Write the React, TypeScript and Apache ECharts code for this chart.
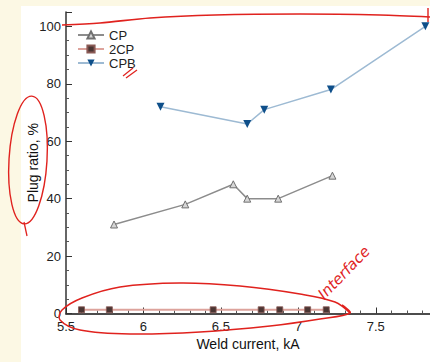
import React, { useEffect, useRef } from "react";
import * as echarts from "echarts";

// Data
const seriesNames = ["CP", "2CP", "CPB"];
const cpCurrent = [5.81, 6.27, 6.58, 6.67, 6.87, 7.22];
const cpRatio = [31, 38, 45, 40, 40, 48];
const twoCpCurrent = [5.6, 5.78, 6.45, 6.76, 6.88, 7.06, 7.18];
const twoCpRatio = [1.3, 1.3, 1.3, 1.3, 1.3, 1.3, 1.3];
const cpbCurrent = [6.11, 6.67, 6.78, 7.21, 7.82];
const cpbRatio = [72, 66, 71, 78, 100];
const xTickLabels = [5.5, 6, 6.5, 7, 7.5];
const yTickLabels = [0, 20, 40, 60, 80, 100];

const FONT = "'Liberation Sans', Arial, Helvetica, sans-serif";
const RED = "#e0221e";

function pairs(xs: number[], ys: number[]) {
  return xs.map((x, i) => [x, ys[i]]);
}

export default function App() {
  const ref = useRef<HTMLDivElement>(null);

  useEffect(() => {
    if (!ref.current) return;
    const chart = echarts.init(ref.current, undefined, { renderer: "svg" });
    const option: any = {
      animation: false,
      backgroundColor: "transparent",
      textStyle: { fontFamily: FONT },
      grid: { left: 66, top: 12, right: 0, bottom: 48.5 },
      legend: {
        orient: "vertical",
        left: 72,
        top: 23,
        itemWidth: 26,
        itemHeight: 9,
        itemGap: 0,
        data: seriesNames,
        textStyle: { fontFamily: FONT, fontSize: 13, color: "#222", lineHeight: 14 },
      },
      xAxis: [
        {
          type: "value",
          min: 5.5,
          max: 7.85,
          interval: 0.5,
          name: "Weld current, kA",
          nameLocation: "middle",
          nameGap: 23,
          nameTextStyle: { fontFamily: FONT, fontSize: 14, color: "#111" },
          axisLine: { show: true, onZero: false, lineStyle: { color: "#333", width: 1.5 } },
          axisTick: { show: true, inside: true, length: 6, lineStyle: { color: "#333" } },
          minorTick: { show: true, splitNumber: 5, length: 3, lineStyle: { color: "#555" } },
          splitLine: { show: false },
          axisLabel: {
            margin: 6,
            fontFamily: FONT,
            fontSize: 13,
            color: "#222",
            showMaxLabel: false,
            formatter: (v: number) =>
              xTickLabels.some((t) => Math.abs(t - v) < 1e-6) ? String(v) : "",
          },
        },
        {
          type: "value",
          position: "top",
          min: 5.5,
          max: 7.85,
          axisLine: { show: true, lineStyle: { color: "#444", width: 1.5 } },
          axisTick: { show: false },
          axisLabel: { show: false },
          splitLine: { show: false },
        },
      ],
      yAxis: {
        type: "value",
        min: 0,
        max: 105,
        interval: 20,
        name: "Plug ratio, %",
        nameLocation: "middle",
        nameGap: 26,
        nameMoveOverlap: false,
        nameTextStyle: { fontFamily: FONT, fontSize: 14, color: "#111" },
        axisLine: { show: true, lineStyle: { color: "#333", width: 1.5 } },
        axisTick: { show: true, inside: true, length: 6, lineStyle: { color: "#333" } },
        minorTick: { show: true, splitNumber: 4, length: 3, lineStyle: { color: "#555" } },
        splitLine: { show: false },
        axisLabel: {
          margin: 5,
          fontFamily: FONT,
          fontSize: 13,
          color: "#222",
          showMaxLabel: false,
          formatter: (v: number) => (yTickLabels.includes(v) ? String(v) : ""),
        },
      },
      series: [
        {
          name: "CP",
          type: "line",
          data: pairs(cpCurrent, cpRatio),
          symbol: "triangle",
          symbolSize: 7,
          lineStyle: { color: "#8c8c8c", width: 1.5 },
          itemStyle: { color: "#d6d6d6", borderColor: "#707070", borderWidth: 1 },
          z: 3,
        },
        {
          name: "2CP",
          type: "line",
          data: pairs(twoCpCurrent, twoCpRatio),
          symbol: "rect",
          symbolSize: 6,
          lineStyle: { color: "#dda39c", width: 1.8 },
          itemStyle: { color: "#4a3533", borderColor: "#8a5a55", borderWidth: 0.8 },
          z: 3,
        },
        {
          name: "CPB",
          type: "line",
          data: pairs(cpbCurrent, cpbRatio),
          symbol: "triangle",
          symbolRotate: 180,
          symbolSize: 8,
          lineStyle: { color: "#9dbad3", width: 1.5 },
          itemStyle: { color: "#0e4f8a" },
          z: 3,
        },
      ],
      graphic: [
        {
          type: "polyline",
          z: 100,
          shape: {
            points: [[62, 25], [100, 23], [150, 18], [215, 15], [300, 14], [380, 15], [430, 17]],
            smooth: 0.3,
          },
          style: { stroke: RED, lineWidth: 1.6, fill: "none" },
        },
        {
          type: "line",
          z: 100,
          shape: { x1: 428, y1: 8, x2: 428, y2: 22 },
          style: { stroke: RED, lineWidth: 1.4 },
        },
        {
          type: "line",
          z: 100,
          shape: { x1: 123, y1: 76, x2: 133, y2: 68 },
          style: { stroke: RED, lineWidth: 1.3 },
        },
        {
          type: "line",
          z: 100,
          shape: { x1: 126, y1: 78, x2: 137, y2: 70 },
          style: { stroke: RED, lineWidth: 1.3 },
        },
        {
          type: "ellipse",
          z: 100,
          x: 28,
          y: 160,
          rotation: -0.06,
          shape: { cx: 0, cy: 0, rx: 19, ry: 64 },
          style: { stroke: RED, lineWidth: 1.4, fill: "none" },
        },
        {
          type: "line",
          z: 100,
          shape: { x1: 24, y1: 222, x2: 27, y2: 236 },
          style: { stroke: RED, lineWidth: 1.3 },
        },
        {
          type: "polyline",
          z: 100,
          shape: {
            points: [
              [350, 313], [335, 302], [300, 294], [240, 286], [180, 283], [120, 287],
              [82, 298], [62, 310], [60, 320], [80, 330], [130, 334], [200, 332],
              [270, 326], [320, 319], [350, 313], [342, 305],
            ],
            smooth: 0.35,
          },
          style: { stroke: RED, lineWidth: 1.5, fill: "none" },
        },
        {
          type: "text",
          z: 100,
          x: 326,
          y: 302,
          rotation: (46 * Math.PI) / 180,
          style: {
            text: "Interface",
            fill: RED,
            font: "italic 15px 'DejaVu Sans', sans-serif",
            textAlign: "left",
            textVerticalAlign: "bottom",
          },
        },
      ],
    };
    chart.setOption(option);
    return () => chart.dispose();
  }, []);

  return (
    <div
      style={{
        position: "fixed",
        left: 0,
        top: 0,
        width: 430,
        height: 362,
        background: "#fcf8e4",
        overflow: "hidden",
      }}
    >
      <div
        style={{ position: "absolute", left: 21, top: 6, right: 0, bottom: 0, background: "#ffffff" }}
      />
      <div ref={ref} style={{ position: "absolute", left: 0, top: 0, width: 430, height: 362 }} />
    </div>
  );
}
